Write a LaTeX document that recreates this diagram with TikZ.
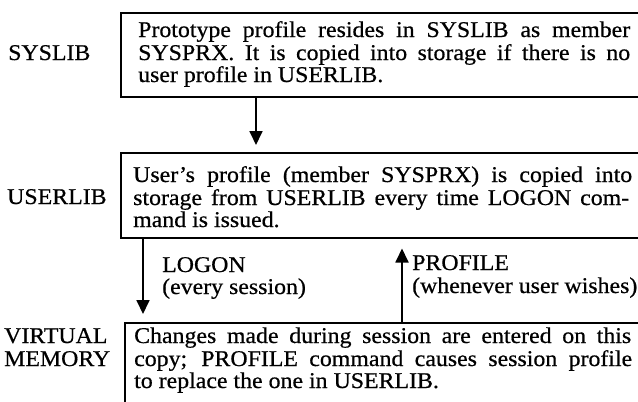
\documentclass[tikz,border=0pt]{standalone}
\usepackage{fontspec}
\setmainfont[FakeStretch=1.06,FakeBold=0.6]{Liberation Serif}
\usetikzlibrary{arrows.meta,calc}
\newcommand\jline[2]{\makebox[#1][s]{#2}}
\begin{document}
\begin{tikzpicture}[x=1pt,y=-1pt,
  box/.style={draw,line width=1.5pt,rectangle,inner sep=0pt,anchor=north west,minimum width=540pt},
  txt/.style={inner sep=0pt,anchor=base west,font=\fontsize{22.5}{23}\selectfont},
  arr/.style={line width=1.8pt,-{Triangle[width=13pt,length=14pt]}}]
\useasboundingbox (0,0) rectangle (638,402);
\clip (0,0) rectangle (638,402);
% boxes (open to the right / bottom, cut by the picture edge)
\node[box,minimum height=84pt] (box1) at (120,12) {};
\node[box,minimum height=85pt] (box2) at (120,152) {};
\node[box,minimum height=110pt] (box3) at (124,322) {};
% box texts
\node[txt] (t11) at (138,37) {\jline{492pt}{Prototype profile resides in SYSLIB as member}};
\node[txt] (t12) at (138,60) {\jline{492pt}{SYSPRX. It is copied into storage if there is no}};
\node[txt] (t13) at (138,82) {user profile in USERLIB.};
\node[txt] (t21) at (133,182) {\jline{499pt}{User's profile (member SYSPRX) is copied into}};
\node[txt] (t22) at (133,205) {\jline{496pt}{storage from USERLIB every time LOGON com-}};
\node[txt] (t23) at (133,227) {mand is issued.};
\node[txt] (t31) at (134,343) {\jline{497pt}{Changes made during session are entered on this}};
\node[txt] (t32) at (134,366) {\jline{498pt}{copy; PROFILE command causes session profile}};
\node[txt] (t33) at (134,388) {to replace the one in USERLIB.};
% left labels
\node[txt] (l1) at (8,60) {SYSLIB};
\node[txt] (l2) at (7,204) {USERLIB};
\node[txt] (l3) at (4,343) {VIRTUAL};
\node[txt] (l4) at (4,366) {MEMORY};
% arrow labels
\node[txt] (logon) at (162,272) {LOGON};
\node[txt] (logon2) at (162,294) {(every session)};
\node[txt] (prof) at (412,270) {PROFILE};
\node[txt] (prof2) at (412,293) {(whenever user wishes)};
% connectors
\coordinate (xa) at (256,0);
\coordinate (xb) at (143,0);
\coordinate (xc) at (402,0);
\draw[arr] (box1.south -| xa) -- ([yshift=7pt]box2.north -| xa);
\draw[arr] (box2.south -| xb) -- ([yshift=8pt]box3.north -| xb);
\draw[arr] (box3.north -| xc) -- ([yshift=-10pt]box2.south -| xc);
\end{tikzpicture}
\end{document}
